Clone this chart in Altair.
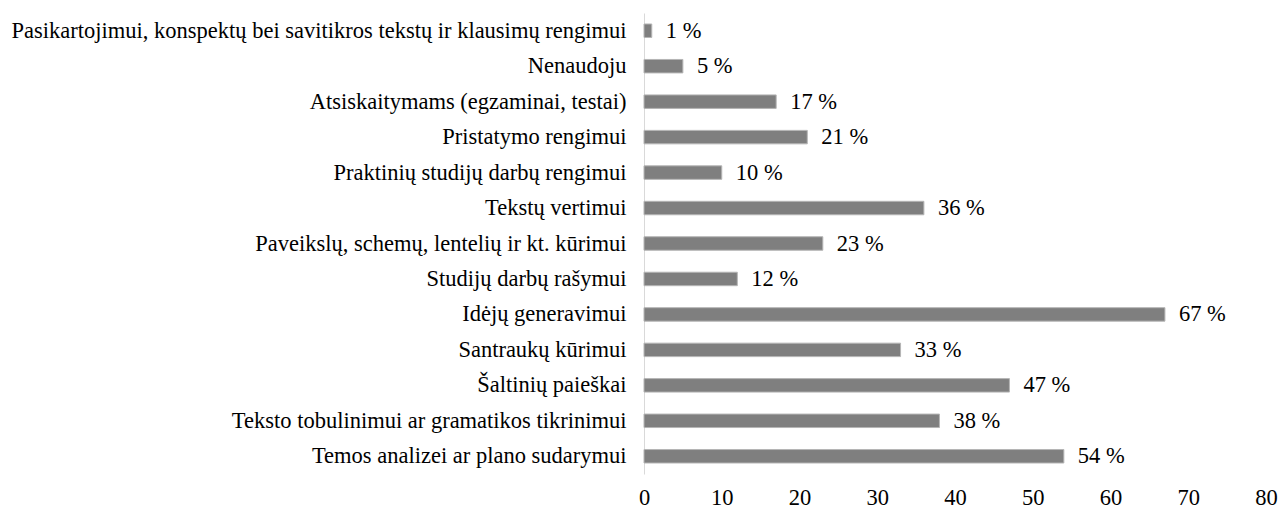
import altair as alt
import pandas as pd

categories = [
    "Pasikartojimui, konspektų bei savitikros tekstų ir klausimų rengimui",
    "Nenaudoju",
    "Atsiskaitymams (egzaminai, testai)",
    "Pristatymo rengimui",
    "Praktinių studijų darbų rengimui",
    "Tekstų vertimui",
    "Paveikslų, schemų, lentelių ir kt. kūrimui",
    "Studijų darbų rašymui",
    "Idėjų generavimui",
    "Santraukų kūrimui",
    "Šaltinių paieškai",
    "Teksto tobulinimui ar gramatikos tikrinimui",
    "Temos analizei ar plano sudarymui",
]
values = [1, 5, 17, 21, 10, 36, 23, 12, 67, 33, 47, 38, 54]
x_ticks = [0, 10, 20, 30, 40, 50, 60, 70, 80]

df = pd.DataFrame({"cat": categories, "val": values})
df["lab"] = df["val"].astype(str) + " %"

FONT = "Liberation Serif"
FS = 22.5

y_enc = alt.Y(
    "cat:N",
    sort=categories,
    title=None,
    scale=alt.Scale(paddingInner=0.62, paddingOuter=0.31),
    axis=alt.Axis(
        ticks=False,
        domain=True,
        domainColor="#d9d9d9",
        domainWidth=1,
        labelFont=FONT,
        labelFontSize=FS,
        labelColor="#000000",
        labelPadding=18,
        labelLimit=1000,
        minExtent=636,
        maxExtent=636,
    ),
)
x_enc = alt.X(
    "val:Q",
    title=None,
    scale=alt.Scale(domain=[0, 80], nice=False),
    axis=alt.Axis(
        values=x_ticks,
        grid=False,
        ticks=False,
        domain=False,
        labelFlush=False,
        labelOverlap=False,
        labelFont=FONT,
        labelFontSize=FS,
        labelColor="#000000",
        labelPadding=12,
    ),
)

bars = alt.Chart(df).mark_bar(color="#7f7f7f", stroke="#b5b5b5", strokeWidth=1).encode(
    x=x_enc, y=y_enc
)
texts = alt.Chart(df).mark_text(
    align="left", baseline="middle", dx=14, font=FONT, fontSize=FS, color="#000000"
).encode(x="val:Q", y=alt.Y("cat:N", sort=categories), text="lab:N")

chart = (
    alt.layer(bars, texts)
    .properties(
        width=622,
        height=461,
        background="white",
        padding={"left": 0, "top": 5, "right": 0, "bottom": 3},
    )
    .configure(font=FONT)
    .configure_view(strokeWidth=0, stroke=None)
)

chart.save("out.html", embed_options={"renderer": "svg", "actions": False})
